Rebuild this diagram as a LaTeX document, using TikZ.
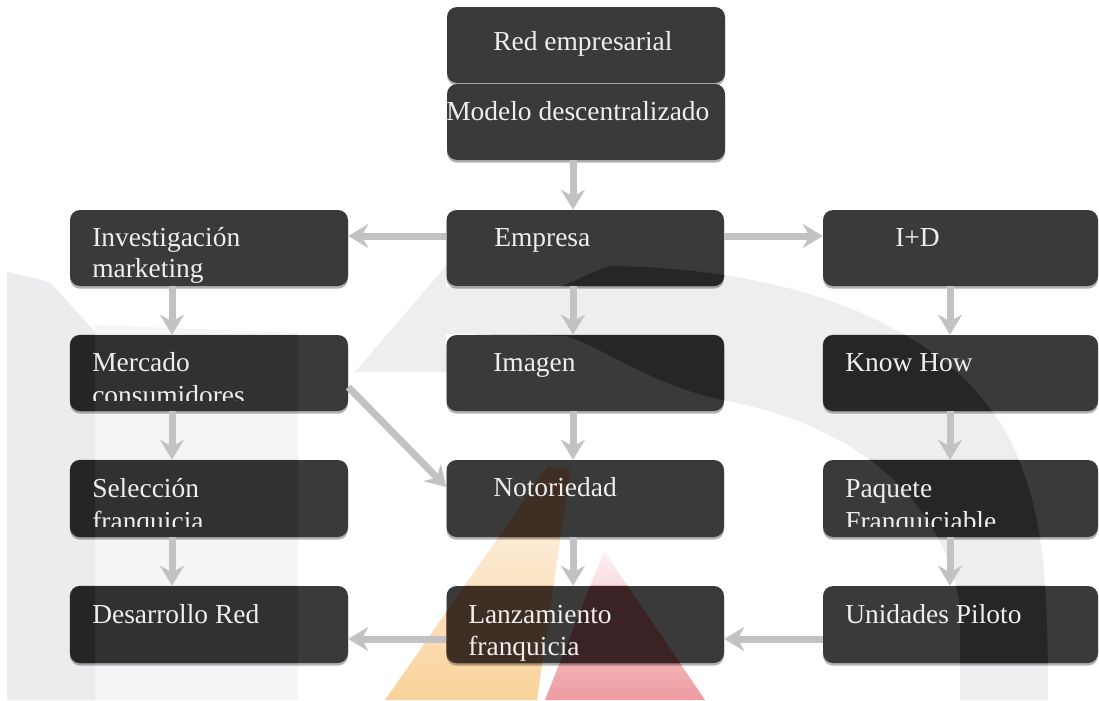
\documentclass[tikz,border=0pt]{standalone}
\usepackage{fontspec}
\setmainfont{Liberation Serif}
\usetikzlibrary{arrows.meta,fit,shadows}

\definecolor{boxfill}{HTML}{3A3A3A}
\definecolor{flowgrey}{HTML}{C2C2C2}
\definecolor{labelwhite}{HTML}{EEEEEE}
\definecolor{wmgreyA}{HTML}{ECECEF}
\definecolor{wmgreyB}{HTML}{F5F5F7}
\definecolor{wmgreyC}{HTML}{EEEEF1}
\definecolor{wmorangeTop}{HTML}{FEF6EF}
\definecolor{wmorangeBot}{HTML}{FAD29A}
\definecolor{wmredTop}{HTML}{FDF1F1}
\definecolor{wmredBot}{HTML}{EE9CA0}
\definecolor{tintbrown}{RGB}{68,30,4}
\definecolor{tintred}{RGB}{62,4,8}

\tikzset{
  box/.style={rectangle, rounded corners=7.5pt, fill=boxfill, inner sep=0pt,
    drop shadow={shadow xshift=0pt, shadow yshift=-2pt, opacity=.3, fill=black}},
  lbl/.style={anchor=base west, inner sep=0pt, text=labelwhite,
    font=\fontsize{20.6pt}{23.3pt}\selectfont},
  flow/.style={draw=flowgrey, line width=5.25pt, line cap=butt,
    -{Stealth[length=15pt,width=18pt,inset=5pt]}},
  % watermark outlines (pixel coordinates, y downwards)
  wmbarA/.style={insert path={(7,272) -- (50,282) -- (95,332) -- (95,700) -- (7,700) -- cycle}},
  wmbarB/.style={insert path={(95,325) -- (298,333) -- (298,700) -- (95,700) -- cycle}},
  wmarch/.style={insert path={(355,372) -- (446,266) -- (446,287) -- (560,287) -- (603,268)
    -- (610,266) .. controls (800,268) and (960,330) .. (1015,450)
    .. controls (1040,510) and (1048,560) .. (1048,700) -- (960,700) -- (960,610)
    .. controls (950,520) and (880,430) .. (723,400)
    .. controls (650,385) and (600,345) .. (565,336) -- (446,334) -- (446,372) -- cycle}},
  wmtriO/.style={insert path={(548,466) -- (570,470) -- (537,700) -- (385,700) -- cycle}},
  wmtriR/.style={insert path={(604,551) -- (705,700) -- (545,700) -- cycle}},
}

\begin{document}
\begin{tikzpicture}[x=0.75pt,y=-0.75pt]
  \useasboundingbox (0,0) rectangle (1099,700);
  \fill[white] (0,0) rectangle (1099,700);

  % faint logo in the background
  \fill[wmgreyB] [wmbarB];
  \fill[wmgreyA] [wmbarA];
  \fill[wmgreyC] [wmarch];
  \shade[top color=wmorangeTop, bottom color=wmorangeBot] [wmtriO];
  \shade[top color=wmredTop, bottom color=wmredBot] [wmtriR];

  % boxes
  \node[box, fit={(447,7) (725,83)}] (tb1) {};
  \node[box, fit={(447,84) (725,160)}] (tb2) {};
  \node[box, fit={(70,210) (348,286)}] (inv) {};
  \node[box, fit={(446.5,210) (724,286)}] (emp) {};
  \node[box, fit={(823,210) (1098,286)}] (ind) {};
  \node[box, fit={(70,335) (348,411)}] (mer) {};
  \node[box, fit={(446.5,335) (724,411)}] (ima) {};
  \node[box, fit={(823,335) (1098,411)}] (kno) {};
  \node[box, fit={(70,460) (348,537)}] (sel) {};
  \node[box, fit={(446.5,460) (724,537)}] (noto) {};
  \node[box, fit={(823,460) (1098,537)}] (paq) {};
  \node[box, fit={(70,586) (348,663)}] (des) {};
  \node[box, fit={(446.5,586) (724,663)}] (lan) {};
  \node[box, fit={(823,586) (1098,663)}] (uni) {};

  % the logo darkens the boxes where it crosses them
  \begin{scope}
    \clip[rounded corners=7.5pt]
      (tb1.north west) rectangle (tb1.south east)
      (tb2.north west) rectangle (tb2.south east)
      (inv.north west) rectangle (inv.south east)
      (emp.north west) rectangle (emp.south east)
      (ind.north west) rectangle (ind.south east)
      (mer.north west) rectangle (mer.south east)
      (ima.north west) rectangle (ima.south east)
      (kno.north west) rectangle (kno.south east)
      (sel.north west) rectangle (sel.south east)
      (noto.north west) rectangle (noto.south east)
      (paq.north west) rectangle (paq.south east)
      (des.north west) rectangle (des.south east)
      (lan.north west) rectangle (lan.south east)
      (uni.north west) rectangle (uni.south east);
    \fill[black, opacity=.14] [wmbarB];
    \fill[black, opacity=.35] [wmbarA];
    \fill[black, opacity=.33] [wmarch];
    \fill[tintbrown, opacity=.42] [wmtriO];
    \fill[tintred, opacity=.42] [wmtriR];
  \end{scope}

  % connector guides
  \coordinate (cxL) at (172,0);
  \coordinate (cxC) at (573,0);
  \coordinate (cxR) at (950,0);
  \coordinate (ryA) at (0,236);
  \coordinate (ryD) at (0,639);
  \coordinate (dgA) at (0,387);
  \coordinate (dgB) at (0,487);

  % connectors
  \draw[flow] (tb2.south -| cxC) -- (emp.north -| cxC);
  \draw[flow] (emp.west |- ryA) -- (inv.east |- ryA);
  \draw[flow] (emp.east |- ryA) -- (ind.west |- ryA);
  \draw[flow] (inv.south -| cxL) -- (mer.north -| cxL);
  \draw[flow] (mer.south -| cxL) -- (sel.north -| cxL);
  \draw[flow] (sel.south -| cxL) -- (des.north -| cxL);
  \draw[flow] (emp.south -| cxC) -- (ima.north -| cxC);
  \draw[flow] (ima.south -| cxC) -- (noto.north -| cxC);
  \draw[flow] (noto.south -| cxC) -- (lan.north -| cxC);
  \draw[flow] (ind.south -| cxR) -- (kno.north -| cxR);
  \draw[flow] (kno.south -| cxR) -- (paq.north -| cxR);
  \draw[flow] (paq.south -| cxR) -- (uni.north -| cxR);
  \draw[flow] (mer.east |- dgA) -- (noto.west |- dgB);
  \draw[flow] (lan.west |- ryD) -- (des.east |- ryD);
  \draw[flow] (uni.west |- ryD) -- (lan.east |- ryD);

  % labels
  \node[lbl] (tb1-t) at (493,50.7) {Red empresarial};
  \node[lbl] (tb2-t) at (446,120) {Modelo descentralizado};
  \node[lbl] (inv-t1) at (92,246.5) {Investigación};
  \node[lbl] (inv-t2) at (92,277) {marketing};
  \node[lbl] (emp-t) at (494,246.5) {Empresa};
  \node[lbl] (ind-t) at (895,246.5) {I+D};
  \node[lbl] (mer-t1) at (92,371.7) {Mercado};
  \begin{scope}
    \clip (60,330) rectangle (360,400.8);
    \node[lbl] (mer-t2) at (92,404.5) {consumidores};
  \end{scope}
  \node[lbl] (ima-t) at (493,371.7) {Imagen};
  \node[lbl] (kno-t) at (845,371.7) {Know How};
  \node[lbl] (sel-t1) at (92,497) {Selección};
  \begin{scope}
    \clip (60,455) rectangle (360,526.8);
    \node[lbl] (sel-t2) at (92,530.5) {franquicia};
  \end{scope}
  \node[lbl] (noto-t) at (493,496.7) {Notoriedad};
  \node[lbl] (paq-t1) at (845,497) {Paquete};
  \begin{scope}
    \clip (815,455) rectangle (1099,526.8);
    \node[lbl] (paq-t2) at (845,530.5) {Franquiciable};
  \end{scope}
  \node[lbl] (des-t) at (92,623.5) {Desarrollo Red};
  \node[lbl] (lan-t1) at (468,623.5) {Lanzamiento};
  \node[lbl] (lan-t2) at (468,655) {franquicia};
  \node[lbl] (uni-t) at (845,623.5) {Unidades Piloto};
\end{tikzpicture}
\end{document}
